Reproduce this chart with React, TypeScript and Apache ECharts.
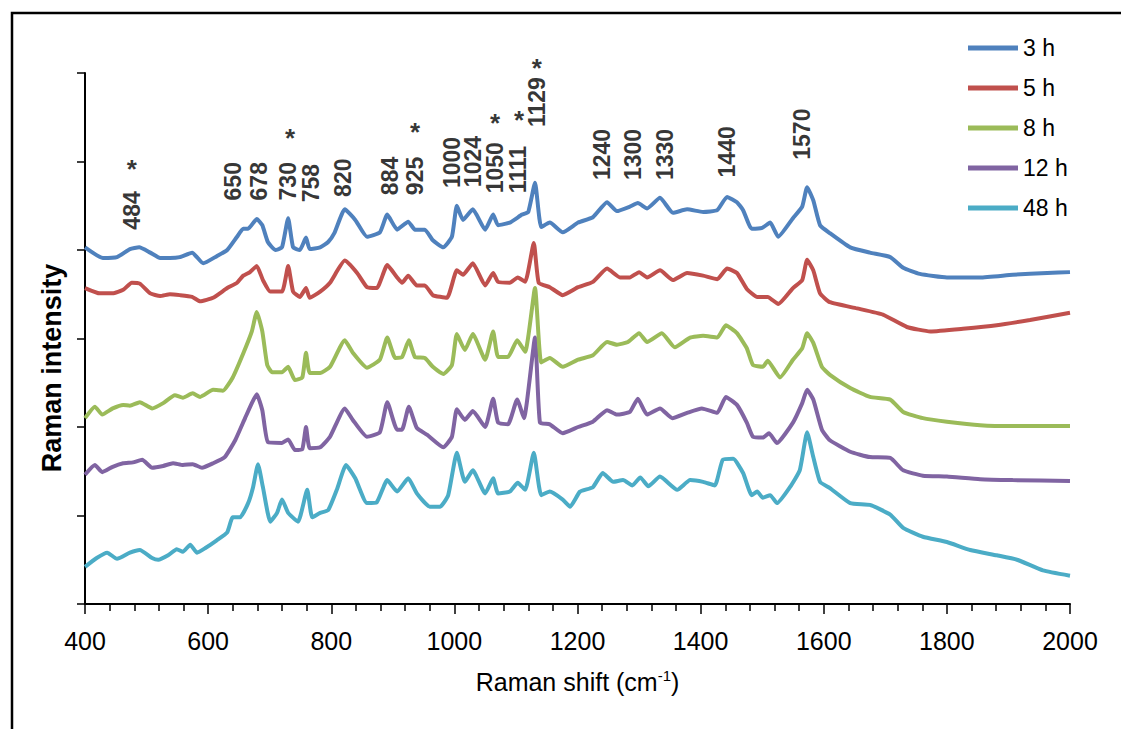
import React, { useEffect, useRef } from "react";
import * as echarts from "echarts";

// Raman spectra recorded at five incubation times, offset vertically (a.u.)
// Each point: [Raman shift (cm-1), intensity]
const seriesNames = ["3 h", "5 h", "8 h", "12 h", "48 h"];
const seriesColors = ["#4F81BD", "#C0504D", "#9BBB59", "#8064A2", "#4BACC6"];

const spectrum3h = [
  [400, 4.03], [429, 3.91], [452, 3.92], [473, 4.01], [488, 4.03], [506, 3.97], [522, 3.91], [538, 3.91],
  [554, 3.92], [574, 3.97], [592, 3.85], [614, 3.93], [631, 4.0], [647, 4.15], [657, 4.24], [665, 4.24],
  [679, 4.35], [688, 4.28], [697, 4.09], [709, 4.0], [720, 4.03], [730, 4.36], [738, 4.03], [749, 4.0],
  [759, 4.14], [765, 4.01], [782, 4.03], [795, 4.09], [805, 4.19], [822, 4.46], [839, 4.34], [858, 4.15],
  [879, 4.2], [891, 4.4], [907, 4.23], [925, 4.32], [936, 4.23], [952, 4.23], [965, 4.11], [982, 4.03],
  [996, 4.15], [1004, 4.5], [1014, 4.34], [1030, 4.46], [1050, 4.23], [1063, 4.4], [1071, 4.28], [1090, 4.31],
  [1110, 4.4], [1120, 4.43], [1131, 4.76], [1141, 4.26], [1155, 4.31], [1176, 4.2], [1201, 4.31], [1225, 4.37],
  [1248, 4.54], [1264, 4.44], [1285, 4.49], [1298, 4.53], [1313, 4.47], [1334, 4.59], [1355, 4.42], [1378, 4.46],
  [1404, 4.43], [1427, 4.45], [1443, 4.6], [1459, 4.54], [1469, 4.45], [1483, 4.24], [1500, 4.25], [1513, 4.31],
  [1526, 4.15], [1550, 4.36], [1565, 4.49], [1573, 4.71], [1583, 4.56], [1594, 4.28], [1610, 4.19], [1643, 4.03],
  [1675, 3.97], [1708, 3.92], [1729, 3.8], [1756, 3.73], [1800, 3.69], [1854, 3.69], [1907, 3.72], [1963, 3.74],
  [2000, 3.75],
];

const spectrum5h = [
  [400, 3.57], [424, 3.51], [445, 3.51], [462, 3.55], [476, 3.63], [489, 3.62], [506, 3.51], [522, 3.48],
  [538, 3.5], [554, 3.49], [574, 3.47], [587, 3.42], [608, 3.46], [631, 3.57], [647, 3.63], [657, 3.71],
  [668, 3.75], [679, 3.82], [689, 3.66], [701, 3.53], [720, 3.53], [730, 3.82], [738, 3.53], [749, 3.47],
  [759, 3.57], [765, 3.46], [782, 3.53], [798, 3.63], [822, 3.88], [842, 3.74], [858, 3.58], [874, 3.57],
  [891, 3.83], [907, 3.69], [915, 3.63], [925, 3.71], [939, 3.6], [952, 3.6], [965, 3.49], [988, 3.46],
  [1004, 3.77], [1014, 3.72], [1030, 3.85], [1050, 3.6], [1063, 3.74], [1071, 3.64], [1090, 3.63], [1103, 3.69],
  [1115, 3.64], [1129, 4.08], [1137, 3.63], [1155, 3.58], [1176, 3.49], [1201, 3.58], [1225, 3.64], [1248, 3.79],
  [1269, 3.69], [1285, 3.69], [1300, 3.75], [1313, 3.69], [1334, 3.77], [1355, 3.66], [1378, 3.74], [1404, 3.71],
  [1427, 3.67], [1443, 3.79], [1459, 3.74], [1475, 3.56], [1492, 3.47], [1509, 3.47], [1526, 3.39], [1550, 3.57],
  [1565, 3.66], [1573, 3.89], [1583, 3.77], [1594, 3.51], [1610, 3.41], [1654, 3.34], [1696, 3.27], [1735, 3.13],
  [1773, 3.08], [1826, 3.11], [1881, 3.15], [1935, 3.21], [2000, 3.29],
];

const spectrum8h = [
  [400, 2.1], [416, 2.23], [428, 2.14], [445, 2.21], [462, 2.25], [473, 2.24], [489, 2.28], [509, 2.21],
  [527, 2.27], [546, 2.36], [559, 2.33], [575, 2.38], [587, 2.34], [608, 2.42], [624, 2.41], [640, 2.56],
  [657, 2.83], [671, 3.08], [679, 3.3], [688, 3.08], [696, 2.7], [704, 2.62], [720, 2.62], [730, 2.68],
  [741, 2.53], [753, 2.56], [759, 2.84], [765, 2.61], [782, 2.61], [798, 2.68], [822, 2.98], [835, 2.84],
  [858, 2.67], [879, 2.76], [891, 3.01], [904, 2.78], [915, 2.79], [926, 2.98], [936, 2.79], [952, 2.78],
  [965, 2.68], [982, 2.6], [996, 2.7], [1004, 3.05], [1017, 2.87], [1030, 3.05], [1050, 2.76], [1063, 3.08],
  [1071, 2.79], [1087, 2.79], [1102, 2.98], [1115, 2.85], [1131, 3.57], [1141, 2.73], [1155, 2.78], [1176, 2.68],
  [1201, 2.76], [1225, 2.81], [1248, 2.96], [1264, 2.93], [1282, 2.96], [1300, 3.06], [1313, 2.96], [1337, 3.06],
  [1358, 2.9], [1383, 3.01], [1404, 3.03], [1427, 3.01], [1441, 3.15], [1459, 3.06], [1475, 2.89], [1485, 2.7],
  [1501, 2.68], [1509, 2.75], [1529, 2.56], [1550, 2.76], [1565, 2.89], [1573, 3.06], [1583, 2.95], [1597, 2.68],
  [1610, 2.59], [1643, 2.44], [1675, 2.34], [1708, 2.31], [1729, 2.17], [1761, 2.1], [1800, 2.06], [1854, 2.02],
  [1907, 2.01], [2000, 2.01],
];

const spectrum12h = [
  [400, 1.46], [416, 1.57], [428, 1.49], [445, 1.55], [462, 1.59], [478, 1.6], [493, 1.63], [509, 1.54],
  [527, 1.56], [543, 1.59], [559, 1.57], [575, 1.58], [590, 1.54], [608, 1.59], [627, 1.66], [644, 1.85],
  [660, 2.1], [671, 2.27], [679, 2.37], [688, 2.19], [697, 1.83], [720, 1.82], [730, 1.86], [741, 1.74],
  [753, 1.75], [759, 2.0], [765, 1.76], [782, 1.77], [798, 1.89], [822, 2.21], [835, 2.08], [858, 1.89],
  [879, 1.94], [891, 2.28], [907, 1.97], [915, 1.97], [926, 2.23], [939, 1.99], [956, 1.91], [982, 1.77],
  [996, 1.89], [1004, 2.2], [1017, 2.08], [1030, 2.18], [1050, 2.0], [1063, 2.32], [1071, 2.05], [1087, 2.03],
  [1102, 2.31], [1113, 2.1], [1131, 3.01], [1139, 2.05], [1155, 2.03], [1176, 1.93], [1201, 2.0], [1225, 2.06],
  [1248, 2.19], [1264, 2.14], [1285, 2.17], [1298, 2.32], [1313, 2.14], [1334, 2.21], [1354, 2.1], [1378, 2.16],
  [1402, 2.21], [1427, 2.16], [1441, 2.34], [1459, 2.25], [1475, 2.05], [1485, 1.89], [1501, 1.88], [1511, 1.93],
  [1524, 1.82], [1550, 2.05], [1565, 2.27], [1573, 2.42], [1583, 2.31], [1597, 1.97], [1610, 1.85], [1643, 1.72],
  [1675, 1.66], [1708, 1.65], [1729, 1.51], [1761, 1.45], [1800, 1.44], [1854, 1.41], [1907, 1.4], [2000, 1.39],
];

const spectrum48h = [
  [400, 0.42], [419, 0.52], [436, 0.58], [452, 0.51], [473, 0.58], [489, 0.61], [509, 0.52], [519, 0.5],
  [535, 0.55], [549, 0.62], [559, 0.59], [571, 0.67], [582, 0.58], [595, 0.63], [614, 0.72], [631, 0.81],
  [640, 0.98], [652, 0.98], [665, 1.14], [673, 1.32], [681, 1.58], [689, 1.32], [701, 0.93], [712, 1.03],
  [720, 1.18], [730, 1.03], [746, 0.93], [761, 1.29], [769, 0.98], [782, 1.03], [795, 1.06], [809, 1.29],
  [824, 1.57], [839, 1.42], [858, 1.14], [874, 1.15], [891, 1.4], [907, 1.27], [925, 1.42], [939, 1.25],
  [960, 1.1], [977, 1.1], [990, 1.23], [1004, 1.71], [1017, 1.38], [1030, 1.51], [1050, 1.25], [1063, 1.42],
  [1071, 1.25], [1090, 1.27], [1103, 1.37], [1115, 1.29], [1129, 1.71], [1141, 1.23], [1155, 1.27], [1176, 1.18],
  [1188, 1.1], [1204, 1.27], [1225, 1.32], [1241, 1.48], [1258, 1.38], [1274, 1.4], [1289, 1.34], [1302, 1.43],
  [1315, 1.33], [1334, 1.44], [1362, 1.29], [1383, 1.4], [1404, 1.38], [1423, 1.34], [1436, 1.63], [1453, 1.64],
  [1469, 1.48], [1483, 1.23], [1492, 1.27], [1501, 1.2], [1513, 1.23], [1524, 1.14], [1545, 1.32], [1561, 1.51],
  [1573, 1.94], [1583, 1.66], [1594, 1.38], [1610, 1.31], [1643, 1.14], [1675, 1.12], [1708, 1.01], [1729, 0.86],
  [1761, 0.76], [1800, 0.7], [1838, 0.61], [1881, 0.55], [1914, 0.5], [1956, 0.38], [2000, 0.32],
];

const spectra = [spectrum3h, spectrum5h, spectrum8h, spectrum12h, spectrum48h];

// Band assignments written above the spectra: label text and its anchor (shift, height)
const bandLabels = ["484", "650", "678", "730", "758", "820", "884", "925", "1000", "1024", "1050", "1111", "1129", "1240", "1300", "1330", "1440", "1570"];
const bandLabelShift = [476, 640, 683, 730, 767, 819, 895, 936, 996, 1030, 1066, 1103, 1134, 1240, 1290, 1342, 1443, 1565];
const bandLabelBase = [4.23, 4.56, 4.56, 4.56, 4.54, 4.6, 4.62, 4.62, 4.7, 4.71, 4.64, 4.64, 5.39, 4.79, 4.79, 4.79, 4.82, 5.02];

// Bands marked with an asterisk
const starShift = [476, 733, 936, 1066, 1105, 1134];
const starHeight = [4.91, 5.26, 5.33, 5.44, 5.47, 6.06];

const xTicks = { min: 400, max: 2000, step: 200 };
const yTicks = { min: 0, max: 6, step: 1 };

const ARIAL = "'Liberation Sans', Arial, sans-serif";

export default function App() {
  const ref = useRef<HTMLDivElement>(null);

  useEffect(() => {
    if (!ref.current) return;
    const chart = echarts.init(ref.current, undefined, { renderer: "svg" });

    const lineSeries = seriesNames.map((name, i) => ({
      name,
      type: "line",
      data: spectra[i],
      showSymbol: false,
      symbol: "none",
      smooth: 0.15,
      z: 10 - i,
      lineStyle: { color: seriesColors[i], width: 4 },
      itemStyle: { color: seriesColors[i] },
    }));

    const option = {
      animation: false,
      backgroundColor: "#fff",
      grid: { left: 85, top: 73, width: 985, height: 531, containLabel: false },
      legend: {
        data: seriesNames,
        orient: "vertical",
        left: 963,
        top: 31,
        icon: "rect",
        itemWidth: 50,
        itemHeight: 5,
        itemGap: 16,
        textStyle: { fontFamily: ARIAL, fontSize: 23, lineHeight: 24, color: "#000" },
      },
      xAxis: {
        type: "value",
        min: xTicks.min,
        max: xTicks.max,
        interval: xTicks.step,
        axisLine: { show: true, onZero: false, lineStyle: { color: "#000", width: 2 } },
        axisTick: { show: true, length: 10, lineStyle: { color: "#000", width: 1.5 } },
        minorTick: { show: true, splitNumber: 5, length: 7, lineStyle: { color: "#000", width: 1.5 } },
        splitLine: { show: false },
        axisLabel: {
          margin: 24,
          fontFamily: ARIAL,
          fontSize: 25,
          color: "#000",
          formatter: (v: number) => String(v),
        },
        name: "{a|Raman shift (cm}{s|-1}{a|)}",
        nameLocation: "middle",
        nameGap: 64,
        nameTextStyle: {
          rich: {
            a: { fontFamily: ARIAL, fontSize: 25, color: "#000", lineHeight: 28 },
            s: { fontFamily: ARIAL, fontSize: 15, color: "#000", verticalAlign: "top", lineHeight: 28 },
          },
        },
      },
      yAxis: {
        type: "value",
        min: yTicks.min,
        max: yTicks.max,
        interval: yTicks.step,
        axisLine: { show: true, onZero: false, lineStyle: { color: "#000", width: 2 } },
        axisTick: { show: true, length: 8, lineStyle: { color: "#000", width: 1.5 } },
        splitLine: { show: false },
        axisLabel: { show: false },
      },
      graphic: [
        {
          type: "rect",
          silent: true,
          shape: { x: 12, y: 13, width: 1140, height: 760 },
          style: { fill: "none", stroke: "#000", lineWidth: 2.5 },
        },
        {
          type: "text",
          x: 52,
          y: 368,
          rotation: Math.PI / 2,
          silent: true,
          style: {
            text: "Raman intensity",
            font: `bold 27px ${ARIAL}`,
            align: "center",
            verticalAlign: "middle",
            textAlign: "center",
            textVerticalAlign: "middle",
            fill: "#000",
          },
        },
      ],
      series: [
        ...lineSeries,
        {
          name: "bands",
          type: "scatter",
          silent: true,
          clip: false,
          symbolSize: 0,
          z: 20,
          data: bandLabels.map((t, i) => [bandLabelShift[i], bandLabelBase[i], t]),
          label: {
            show: true,
            position: "top",
            distance: 0,
            rotate: 90,
            align: "left",
            verticalAlign: "middle",
            formatter: (p: any) => p.value[2],
            fontFamily: ARIAL,
            fontWeight: "bold",
            fontSize: 23,
            color: "#000",
          },
        },
        {
          name: "stars",
          type: "scatter",
          silent: true,
          clip: false,
          symbolSize: 0,
          z: 20,
          data: starShift.map((s, i) => [s, starHeight[i]]),
          label: {
            show: true,
            position: "inside",
            align: "center",
            verticalAlign: "middle",
            formatter: "*",
            fontFamily: ARIAL,
            fontWeight: "bold",
            fontSize: 26,
            color: "#000",
          },
        },
      ],
    };

    chart.setOption(option as any);
    return () => chart.dispose();
  }, []);

  return (
    <div
      ref={ref}
      style={{ position: "fixed", left: 0, top: 0, width: 1121, height: 729, background: "#fff" }}
    />
  );
}
